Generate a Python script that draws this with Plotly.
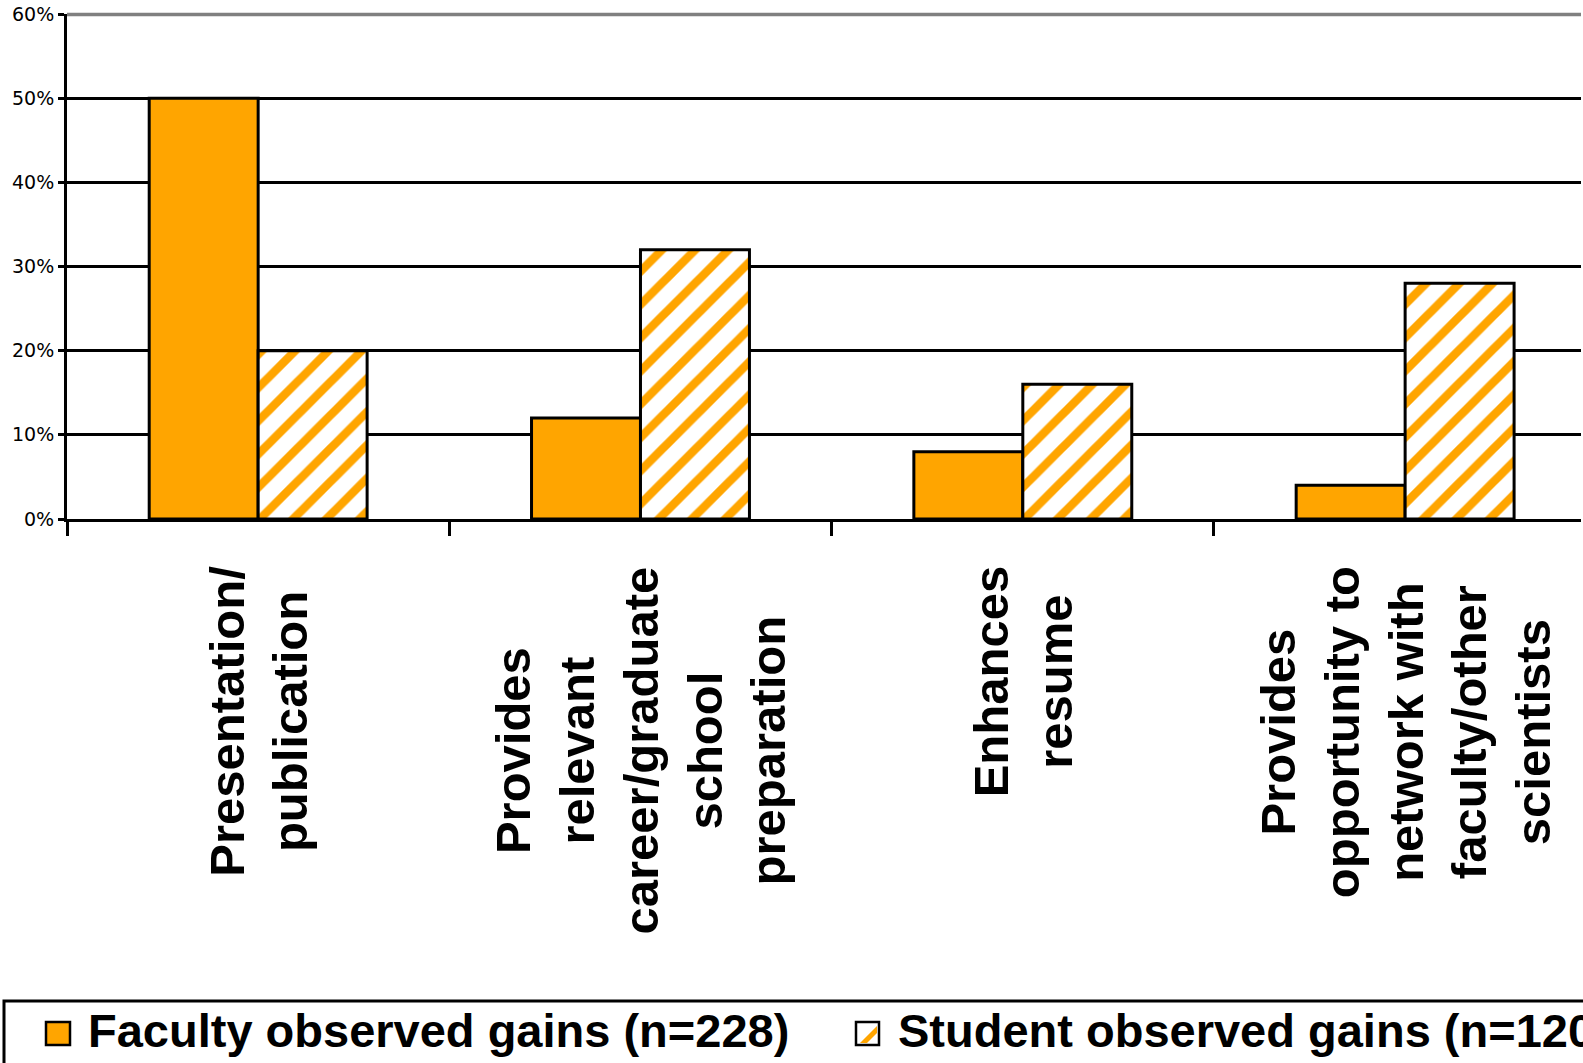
import plotly.graph_objects as go

# Survey categories (x axis) and the share of respondents reporting each gain
categories = [
    "Presentation/<br>publication",
    "Provides<br>relevant<br>career/graduate<br>school<br>preparation",
    "Enhances<br>resume",
    "Provides<br>opportunity to<br>network with<br>faculty/other<br>scientists",
]
faculty_name = "Faculty observed gains (n=228)"
student_name = "Student observed gains (n=120)"
faculty_values = [0.50, 0.12, 0.08, 0.04]
student_values = [0.20, 0.32, 0.16, 0.28]
y_ticks = [0, 0.1, 0.2, 0.3, 0.4, 0.5, 0.6]

ORANGE = "#FFA500"
W, H = 1583, 1063
ML, MR, MT, MB = 67, 2, 14, 544
PLOT_L, PLOT_R = ML, W - MR
PLOT_T, PLOT_B = MT, H - MB


def px(xp):
    """Horizontal pixel position -> paper coordinate."""
    return (xp - PLOT_L) / (PLOT_R - PLOT_L)


def py(yp):
    """Vertical pixel position -> paper coordinate."""
    return (PLOT_B - yp) / (PLOT_B - PLOT_T)


fig = go.Figure()
fig.add_trace(go.Bar(
    x=categories, y=faculty_values, name=faculty_name,
    marker=dict(color=ORANGE, line=dict(color="black", width=3)),
    showlegend=False,
))
fig.add_trace(go.Bar(
    x=categories, y=student_values, name=student_name,
    marker=dict(
        color="white",
        line=dict(color="black", width=3),
        pattern=dict(shape="/", fgcolor=ORANGE, bgcolor="white",
                     size=23.5, solidity=0.36, fillmode="replace"),
    ),
    showlegend=False,
))

# Rotated, centre-aligned category labels under the axis
annotations = []
for label in categories:
    annotations.append(dict(
        x=label, xref="x", y=py(564), yref="paper",
        text=label, textangle=-90, showarrow=False,
        xanchor="center", yanchor="top", align="center",
        font=dict(family="Liberation Sans, Arial, sans-serif", size=49,
                  color="black", weight="bold"),
    ))

# Legend drawn as a framed strip along the bottom (runs past the page edge)
legend_font = dict(family="Liberation Sans, Arial, sans-serif", size=47,
                   color="black", weight="bold")
annotations.append(dict(
    x=px(86), xref="paper", y=py(1030), yref="paper",
    text=faculty_name, showarrow=False, xanchor="left", yanchor="middle",
    font=legend_font,
))
annotations.append(dict(
    x=px(896), xref="paper", y=py(1030), yref="paper",
    text=student_name, showarrow=False, xanchor="left", yanchor="middle",
    font=legend_font,
))

sx0, sx1, sy0, sy1 = 856, 879, 1022, 1045
shapes = [
    # grey top border of the plot area at 60%
    dict(type="line", xref="paper", yref="paper", x0=0, x1=1,
         y0=py(14.5), y1=py(14.5),
         line=dict(color="#808080", width=3.5), layer="above"),
    # legend frame
    dict(type="rect", xref="paper", yref="paper",
         x0=px(4), x1=px(1700), y0=py(1001), y1=py(1100),
         line=dict(color="black", width=3), fillcolor="rgba(0,0,0,0)"),
    # faculty swatch
    dict(type="rect", xref="paper", yref="paper",
         x0=px(46), x1=px(70), y0=py(sy1), y1=py(sy0),
         line=dict(color="black", width=2.5), fillcolor=ORANGE),
    # student swatch
    dict(type="rect", xref="paper", yref="paper",
         x0=px(sx0), x1=px(sx1), y0=py(sy1), y1=py(sy0),
         line=dict(color="black", width=2.5), fillcolor="white"),
]
# diagonal stripe inside the student swatch
stripe = [(sx0 + 4, sy1 - 2), (sx0 + 11, sy1 - 2), (sx1 - 2, sy0 + 11), (sx1 - 2, sy0 + 4)]
path = "M " + " L ".join(f"{px(a)},{py(b)}" for a, b in stripe) + " Z"
shapes.append(dict(type="path", xref="paper", yref="paper", path=path,
                   fillcolor=ORANGE, line=dict(width=0)))

fig.update_layout(
    width=W, height=H,
    margin=dict(l=ML, r=MR, t=MT, b=MB, pad=0),
    paper_bgcolor="white", plot_bgcolor="white",
    barmode="group", bargap=0.43, bargroupgap=0,
    annotations=annotations, shapes=shapes,
    showlegend=False,
)
fig.update_xaxes(
    type="category", range=[-0.5, 3.46],
    showticklabels=False,
    tickson="boundaries", ticks="outside", ticklen=14, tickwidth=3,
    tickcolor="black", showline=True, linecolor="black", linewidth=3,
    showgrid=False, zeroline=False,
)
fig.update_yaxes(
    range=[0, 0.6], tickmode="array", tickvals=y_ticks, tickformat=".0%",
    ticks="outside", ticklen=6, tickwidth=3, tickcolor="black",
    showline=True, linecolor="black", linewidth=3,
    showgrid=True, gridcolor="black", gridwidth=3, zeroline=False,
    tickfont=dict(family="DejaVu Sans, Verdana, sans-serif", size=19, color="black"),
)

fig.write_html("out.html")
